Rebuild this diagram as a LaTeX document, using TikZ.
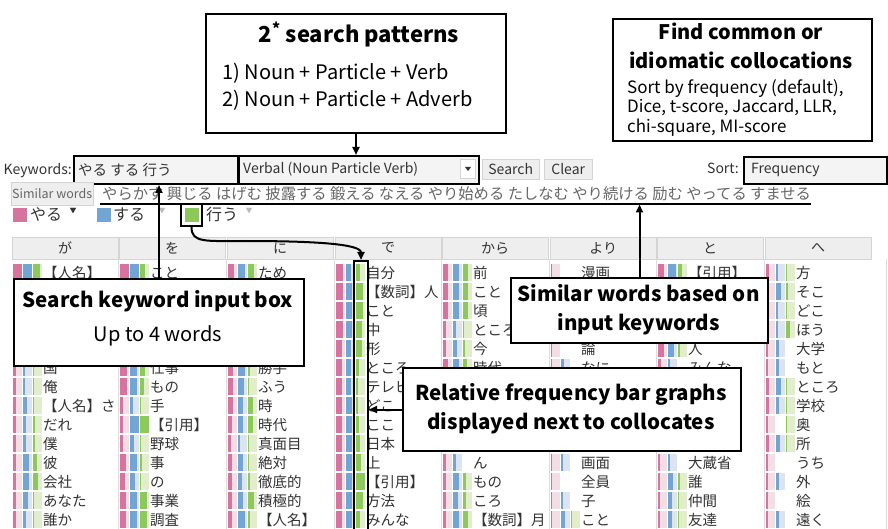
\documentclass[tikz,border=0pt]{standalone}
\usepackage{fontspec}
\setmainfont{Noto Sans CJK JP}
\usetikzlibrary{arrows.meta}

\definecolor{pd}{HTML}{D6739F}
\definecolor{pl}{HTML}{F3DEE5}
\definecolor{bd}{HTML}{72A5D3}
\definecolor{bl}{HTML}{DCE3F1}
\definecolor{gd}{HTML}{8CC95A}
\definecolor{gl}{HTML}{E1EDCB}
\definecolor{ink}{HTML}{333333}
\definecolor{soft}{HTML}{666666}
\definecolor{hdr}{HTML}{EEEEEE}
\definecolor{hdrline}{HTML}{D4D4D4}
\definecolor{fieldbg}{HTML}{F4F4F4}
\definecolor{sep}{HTML}{DDDDDD}
\definecolor{faint}{HTML}{BBBBBB}

\newcommand\fs[1]{\fontsize{#1}{#1}\selectfont}

\tikzset{
  callout/.style={draw=black, line width=2pt, fill=white, inner sep=0pt, anchor=north west},
  hilite/.style={draw=black, line width=2pt, inner sep=0pt, anchor=north west},
  arr/.style={-{Triangle[length=8pt,width=7pt]}, line width=2pt},
  txt/.style={inner sep=0pt, anchor=base},
  colhead/.style={draw=hdrline, fill=hdr, minimum width=106pt, minimum height=22pt,
    inner sep=0pt, text=ink, font=\fs{14}, anchor=north west},
  cell/.style={txt, anchor=base west, text=ink, font=\fs{14.5}},
  btn/.style={draw=hdrline, fill=hdr, inner sep=0pt, anchor=north west, text=ink, font=\fs{14}},
  title/.style={txt, font=\fs{20.5}\bfseries},
  body/.style={txt, font=\fs{20}},
  small/.style={txt, font=\fs{17}},
}

% one slot of a frequency bar: light background, dark part from the left
\newcommand\bslot[5]{%
  \ifdim #3pt>0pt
    \fill[#4] (#1,#2-8.3) rectangle ++(9.3,16.6);
    \fill[#5] (#1,#2-8.3) rectangle ++(9.3*#3,16.6);
  \fi}
% a collocate row: column left x, row index, pink/blue/green fractions, word
\newcommand\crow[6]{%
  \pgfmathsetmacro\ry{272.5+19*#2}%
  \bslot{#1+1}{\ry}{#3}{pl}{pd}%
  \bslot{#1+10.8}{\ry}{#4}{bl}{bd}%
  \bslot{#1+20.6}{\ry}{#5}{gl}{gd}%
  \node[cell] (t#1r#2) at (#1+31,\ry+5.5) {#6};}

\begin{document}
\begin{tikzpicture}[x=1pt,y=-1pt]
\useasboundingbox (0,0) rectangle (888,529);
\fill[white] (0,0) rectangle (888,529);

% ---------- search bar ----------
\node[txt, anchor=base east, text=ink, font=\fs{14}] (kwlbl) at (72,175) {Keywords:};
\node[hilite, fill=fieldbg, minimum width=164pt, minimum height=28pt] (kwin) at (73,155) {};
\node[txt, anchor=base west, text=ink, font=\fs{14.5}] (kwtext) at (78,175.5) {やる する 行う};
\node[hilite, fill=fieldbg, minimum width=240pt, minimum height=28pt] (dd) at (238,155) {};
\node[txt, anchor=base west, text=ink, font=\fs{14}] (ddtext) at (243,174) {Verbal (Noun Particle Verb)};
\node[draw=hdrline, fill=white, inner sep=0pt, minimum width=15pt, minimum height=19pt] (ddbtn) at (468,169) {};
\fill[ink] (465,167) -- (471,167) -- (468,171) -- cycle;
\node[btn, minimum width=57pt, minimum height=20pt] (sbtn) at (482,159) {Search};
\node[btn, minimum width=48pt, minimum height=20pt] (cbtn) at (544,159) {Clear};
\node[txt, anchor=base east, text=ink, font=\fs{14}] (sortlbl) at (739,174) {Sort:};
\node[hilite, fill=fieldbg, minimum width=143pt, minimum height=27pt] (sortdd) at (743,156) {};
\node[txt, anchor=base west, text=ink, font=\fs{14}] (sorttext) at (751,174) {Frequency};

% ---------- similar words ----------
\node[btn, minimum width=82pt, minimum height=23pt, font=\fs{12.5}, text=soft] (simbtn) at (11,182) {Similar words};
\node[txt, anchor=base west, text=soft, font=\fs{15.3}] (simlist) at (102,200)
  {やらかす 興じる はげむ 披露する 鍛える なえる やり始める たしなむ やり続ける 励む やってる すませる};
\coordinate (ulA) at (100,204.5);
\coordinate (ulB) at (811,204.5);
\draw[line width=2pt] (ulA) -- (ulB);

% ---------- legend ----------
\node[fill=pd, inner sep=0pt, minimum size=14pt] (psq) at (20,215) {};
\node[txt, anchor=base west, text=ink, font=\fs{16}] (plab) at (30,221) {やる};
\node[txt, text=ink, font=\fs{7}] (pdrop) at (73,213.5) {▼};
\node[fill=bd, inner sep=0pt, minimum size=14pt] (bsq) at (104,215) {};
\node[txt, anchor=base west, text=ink, font=\fs{16}] (blab) at (113,221) {する};
\node[txt, text=faint, font=\fs{7}] (bdrop) at (162,213.5) {▼};
\node[fill=gd, inner sep=0pt, minimum size=14pt] (gfill) at (191.5,215) {};
\node[draw=black, line width=2pt, inner sep=0pt, minimum width=21pt, minimum height=22pt] (gsq) at (191.5,215) {};
\node[txt, anchor=base west, text=ink, font=\fs{16}] (glab) at (206,221) {行う};
\node[txt, text=faint, font=\fs{7}] (gdrop) at (249,213.5) {▼};

% ---------- column headers and separators ----------
\foreach \x/\h [count=\i] in {12/が,119/を,227/に,335/で,442/から,550/より,657/と,765/へ}{
  \node[colhead] (h\i) at (\x,237) {\h};
}
\foreach \x in {118,226,334,441,549,656,764,886}{
  \draw[sep, line width=0.8pt] (\x,259) -- (\x,529);
}

% ---------- collocates: が ----------
\crow{12}{0}{1}{1}{0.8}{【人名】}
\crow{12}{5}{0.35}{0.2}{0.15}{国}
\crow{12}{6}{0.35}{0.2}{0.1}{俺}
\crow{12}{7}{0.35}{0.4}{0.2}{【人名】さ}
\crow{12}{8}{0.35}{0.3}{0.3}{だれ}
\crow{12}{9}{0.35}{0.3}{0.3}{僕}
\crow{12}{10}{0.35}{0.7}{0.5}{彼}
\crow{12}{11}{0.35}{0.7}{0.6}{会社}
\crow{12}{12}{0.35}{0.6}{0.2}{あなた}
\crow{12}{13}{0.3}{0.3}{0.1}{誰か}
% を
\crow{119}{0}{1}{1}{0.6}{こと}
\crow{119}{5}{0.8}{0.8}{0.6}{仕事}
\crow{119}{6}{0.8}{0.8}{0.5}{もの}
\crow{119}{7}{0.35}{0.3}{0.2}{手}
\crow{119}{8}{0.35}{1}{1}{【引用】}
\crow{119}{9}{0.35}{0.5}{0.2}{野球}
\crow{119}{10}{0.6}{0.8}{0.3}{事}
\crow{119}{11}{0.5}{0.6}{0.2}{の}
\crow{119}{12}{0.6}{0.8}{0.8}{事業}
\crow{119}{13}{0.6}{0.8}{0.8}{調査}
% に
\crow{227}{0}{0.6}{0.8}{0.7}{ため}
\crow{227}{5}{0.5}{0.8}{0.3}{勝手}
\crow{227}{6}{0.5}{0.7}{0.2}{ふう}
\crow{227}{7}{0.5}{0.6}{0.6}{時}
\crow{227}{8}{0.4}{0.6}{0.6}{時代}
\crow{227}{9}{0.35}{0.2}{0.05}{真面目}
\crow{227}{10}{0.4}{0.6}{0.2}{絶対}
\crow{227}{11}{0.4}{0.5}{0.3}{徹底的}
\crow{227}{12}{0.4}{0.6}{0.7}{積極的}
\crow{227}{13}{0.4}{0.8}{0.3}{【人名】}
% で
\crow{335}{0}{0.7}{0.6}{0.5}{自分}
\crow{335}{1}{0.7}{0.7}{0.8}{【数詞】人}
\crow{335}{2}{0.7}{0.7}{0.8}{こと}
\crow{335}{3}{0.7}{0.7}{0.7}{中}
\crow{335}{4}{0.6}{0.6}{0.7}{形}
\crow{335}{5}{0.6}{0.6}{0.4}{ところ}
\crow{335}{6}{0.6}{0.6}{0.3}{テレビ}
\crow{335}{7}{0.6}{0.7}{0.3}{どこ}
\crow{335}{8}{0.6}{0.7}{0.4}{ここ}
\crow{335}{9}{0.6}{0.7}{0.5}{日本}
\crow{335}{10}{0.6}{0.7}{0.6}{上}
\crow{335}{11}{0.6}{0.7}{1}{【引用】}
\crow{335}{12}{0.6}{0.7}{0.8}{方法}
\crow{335}{13}{0.6}{0.7}{0.5}{みんな}
% から
\crow{442}{0}{0.5}{0.7}{0.6}{前}
\crow{442}{1}{0.5}{0.7}{0.6}{こと}
\crow{442}{2}{0.5}{0.7}{0.6}{頃}
\crow{442}{3}{0.35}{0.3}{0.2}{ところ}
\crow{442}{4}{0.35}{0.4}{0.3}{今}
\crow{442}{5}{0.5}{0.7}{0.5}{時代}
\crow{442}{10}{0.35}{0.3}{0}{ん}
\crow{442}{11}{0.35}{0.7}{0.4}{もの}
\crow{442}{12}{0.35}{0.6}{0.4}{ころ}
\crow{442}{13}{0.35}{0.7}{0.6}{【数詞】月}
% より
\crow{550}{0}{0.15}{0}{0}{漫画}
\crow{550}{4}{0.15}{0}{0}{論}
\crow{550}{5}{0.15}{0.3}{0}{なに}
\crow{550}{10}{0.15}{0.2}{0}{画面}
\crow{550}{11}{0.15}{0}{0}{全員}
\crow{550}{12}{0.15}{0.2}{0}{子}
\crow{550}{13}{0.15}{0.5}{0.2}{こと}
% と
\crow{657}{0}{0.6}{0.9}{0.5}{【引用】}
\crow{657}{4}{0.6}{0.7}{0.3}{人}
\crow{657}{5}{0.3}{0.2}{0}{みんな}
\crow{657}{10}{0.2}{0.2}{0}{大蔵省}
\crow{657}{11}{0.2}{0.6}{0.3}{誰}
\crow{657}{12}{0.2}{0.5}{0.2}{仲間}
\crow{657}{13}{0.2}{0.5}{0.2}{友達}
% へ
\crow{765}{0}{0.3}{0.2}{0.1}{方}
\crow{765}{1}{0.2}{0.6}{0.3}{そこ}
\crow{765}{2}{0.2}{0.2}{0.2}{どこ}
\crow{765}{3}{0.2}{0.2}{0.5}{ほう}
\crow{765}{4}{0.2}{0.3}{0}{大学}
\crow{765}{5}{0.2}{0.3}{0}{もと}
\crow{765}{6}{0.3}{0.6}{0.2}{ところ}
\crow{765}{7}{0.3}{0.3}{0.2}{学校}
\crow{765}{8}{0.2}{0}{0.2}{奥}
\crow{765}{9}{0.3}{0.4}{0.2}{所}
\crow{765}{10}{0.2}{0}{0}{うち}
\crow{765}{11}{0.2}{0.3}{0}{外}
\crow{765}{12}{0.2}{0}{0}{絵}
\crow{765}{13}{0.2}{0.3}{0}{遠く}

% highlighted green bars of the で column
\node[hilite, minimum width=14pt, minimum height=275pt] (hl) at (353,260) {};

% ---------- callouts ----------
\node[callout, minimum width=300pt, minimum height=119pt] (pat) at (205,13) {};
\node[title, font=\fs{22}\bfseries] (patT) at (359,42.5) {2\textsuperscript{*} search patterns};
\node[body, anchor=base west] (pat1) at (222,80) {1) Noun + Particle + Verb};
\node[body, anchor=base west] (pat2) at (222,107) {2) Noun + Particle + Adverb};

\node[callout, minimum width=259pt, minimum height=122pt] (coll) at (612,18) {};
\node[title, font=\fs{20}\bfseries] (collT1) at (741,40) {Find common or};
\node[title, font=\fs{20}\bfseries] (collT2) at (741,69) {idiomatic collocations};
\node[small, anchor=base west] (coll1) at (627,94) {Sort by frequency (default),};
\node[small, anchor=base west] (coll2) at (627,113) {Dice, t-score, Jaccard, LLR,};
\node[small, anchor=base west] (coll3) at (627,133) {chi-square, MI-score};

\node[callout, minimum width=290pt, minimum height=87pt] (skb) at (13,278) {};
\node[title] (skbT) at (158,307) {Search keyword input box};
\node[body] (skbB) at (158,341) {Up to 4 words};

\node[callout, minimum width=257pt, minimum height=65pt] (sim) at (510,277) {};
\node[title] (simT1) at (638.5,301) {Similar words based on};
\node[title] (simT2) at (638.5,330) {input keywords};

\node[callout, minimum width=338pt, minimum height=83pt] (rel) at (402,367) {};
\node[title] (relT1) at (571,400) {Relative frequency bar graphs};
\node[title] (relT2) at (571,429) {displayed next to collocates};

% ---------- connectors ----------
\coordinate (kwx) at (159,0);
\coordinate (bend) at (245,241);
\draw[arr] (pat.south) -- (pat.south |- dd.north);
\draw[arr] (skb.north -| kwx) -- (kwin.south -| kwx);
\draw[arr] (sim.north) -- (sim.north |- ulA);
\draw[arr] (rel.west) -- (rel.west -| hl.east);
\draw[arr] (gsq.south) .. controls +(0,16) and +(-40,0) .. (bend)
  .. controls +(70,0) and +(0,-16) .. (hl.north);
\end{tikzpicture}
\end{document}
